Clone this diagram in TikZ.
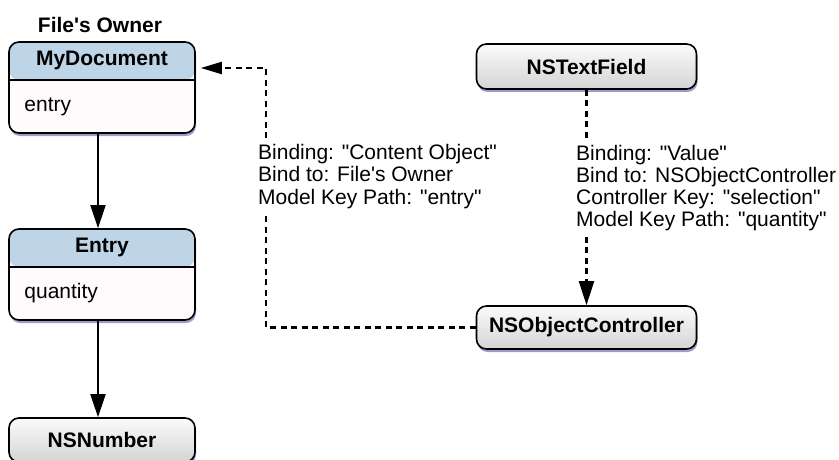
\documentclass[tikz,border=0pt]{standalone}
\usepackage{fontspec}
\setmainfont{Liberation Sans}
\usetikzlibrary{arrows.meta,positioning,shadows}

\definecolor{headblue}{HTML}{BED4E7}
\definecolor{bodywhite}{HTML}{FFFBFD}
\definecolor{shadowblue}{HTML}{9C9CCB}
\definecolor{graytop}{HTML}{FBFBFB}
\definecolor{graybot}{HTML}{D4D4D4}

\begin{document}
\begin{tikzpicture}[x=1pt,y=-1pt,
  every node/.style={font=\fontsize{21}{22}\selectfont},
  boxshadow/.style={drop shadow={shadow xshift=1pt,shadow yshift=-3pt,fill=shadowblue,opacity=1}},
  classbox/.style={draw,line width=1.6pt,rounded corners=10pt,fill=bodywhite,boxshadow,
    minimum width=186pt,minimum height=91pt,inner sep=0pt,
    path picture={
      \fill[headblue] (path picture bounding box.north west) rectangle ([yshift=-38pt]path picture bounding box.north east);
      \draw[line width=1.3pt] ([yshift=-38pt]path picture bounding box.north west) -- ([yshift=-38pt]path picture bounding box.north east);}},
  objbox/.style={draw,line width=1.6pt,rounded corners=10pt,top color=graytop,bottom color=graybot,boxshadow,
    minimum height=44pt,inner sep=0pt,font=\bfseries\fontsize{21}{22}\selectfont},
  title/.style={inner sep=0pt,font=\bfseries\fontsize{21}{22}\selectfont},
  attr/.style={anchor=west,inner sep=0pt},
  binding/.style={align=left,fill=white,inner xsep=0pt,inner ysep=6pt,anchor=base west},
  link/.style={-{Triangle[length=23pt,width=15pt]},line width=1.8pt},
  bindlink/.style={line width=2.1pt,dash pattern=on 6pt off 4.5pt}]
  \useasboundingbox (0,0) rectangle (839,460);

  % model side
  \node[title] (owner) at (100,25) {File\textquotesingle s Owner};
  \node[classbox] (mydoc) at (102,87.5) {};
  \node[title] (mydoctitle) at ([yshift=-19pt]mydoc.north) {MyDocument};
  \node[attr] (mydocattr) at ([xshift=16pt,yshift=-19pt]mydoc.west) {entry};
  \node[classbox] (entry) at (102,274.5) {};
  \node[title] (entrytitle) at ([yshift=-19pt]entry.north) {Entry};
  \node[attr] (entryattr) at ([xshift=16pt,yshift=-19pt]entry.west) {quantity};
  \node[objbox,minimum width=186pt] (number) at (102,440) {NSNumber};

  % view and controller
  \node[objbox,minimum width=220pt,minimum height=45pt] (textfield) at (586.5,66.5) {NSTextField};
  \node[objbox,minimum width=220pt,minimum height=43pt] (controller) at (586.5,327.5) {NSObjectController};

  \draw[link] ([xshift=-4pt]mydoc.south) -- ([xshift=-4pt]entry.north);
  \draw[link] ([xshift=-4pt]entry.south) -- ([xshift=-4pt]number.north);

  % bindings
  \coordinate (ownerpin) at ([xshift=5pt,yshift=19.5pt]mydoc.east);
  \coordinate (corner) at (266,68);
  \draw[bindlink,-{Triangle[length=21pt,width=12pt]}] (controller.west) -| (corner) -- (ownerpin);
  \draw[bindlink,-{Triangle[length=24pt,width=15pt]}] (textfield.south) -- (controller.north);

  \node[binding] (ownerbinding) at (258,204) {Binding: \textquotedbl Content Object\textquotedbl\\Bind to: File\textquotesingle s Owner\\Model Key Path: \textquotedbl entry\textquotedbl};
  \node[binding] (valuebinding) at (576,226) {Binding: \textquotedbl Value\textquotedbl\\Bind to: NSObjectController\\Controller Key: \textquotedbl selection\textquotedbl\\Model Key Path: \textquotedbl quantity\textquotedbl};
\end{tikzpicture}
\end{document}
